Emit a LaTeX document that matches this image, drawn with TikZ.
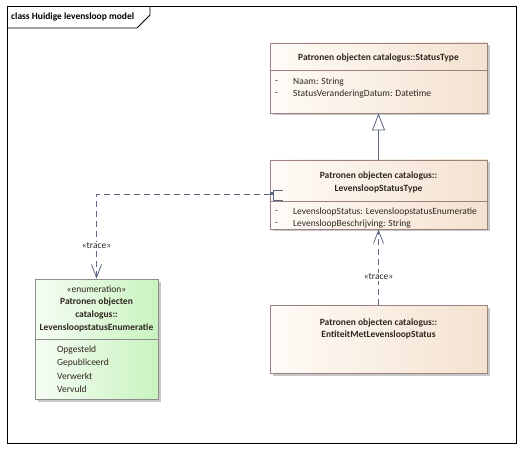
\documentclass[tikz,border=0pt]{standalone}
\usepackage{fontspec}
\setmainfont{Carlito}
\usetikzlibrary{arrows.meta,shadows}
\definecolor{clsL}{HTML}{FFFBF7}
\definecolor{clsR}{HTML}{F4E2D0}
\definecolor{clsB}{HTML}{9E8282}
\definecolor{enL}{HTML}{F6FDF4}
\definecolor{enR}{HTML}{C9F3BF}
\definecolor{enB}{HTML}{8C8C8C}
\definecolor{conn}{HTML}{5C6683}
\definecolor{txt}{HTML}{2E2620}
\begin{document}
\begin{tikzpicture}[x=1pt,y=-1pt,
  box/.style={draw=clsB,line width=0.8pt,left color=clsL,right color=clsR,
    minimum width=217pt,inner sep=0pt,
    general shadow={shadow xshift=2.5pt,shadow yshift=-2.5pt,fill=black!22}},
  ebox/.style={draw=enB,line width=0.8pt,left color=enL,right color=enR,
    minimum width=123pt,minimum height=120pt,inner sep=0pt,
    general shadow={shadow xshift=2.5pt,shadow yshift=-2.5pt,fill=black!22}},
  ttl/.style={font=\fontsize{9.5}{10}\selectfont\bfseries,text=txt,inner sep=0pt},
  attr/.style={font=\fontsize{9.5}{10}\selectfont,text=txt,inner sep=0pt,anchor=west},
  sep/.style={draw=clsB,line width=0.8pt},
  conline/.style={draw=conn,line width=0.8pt},
  trace/.style={conline,dash pattern=on 6pt off 4pt,-{Straight Barb[length=13pt,width=10pt]}},
  lbl/.style={font=\fontsize{9.5}{10}\selectfont,text=txt,fill=white,inner sep=1pt}
  ]
\useasboundingbox (0,0) rectangle (522,449);
% frame
\draw[line width=0.9pt] (7,6) rectangle (516,443);
\draw[line width=0.8pt] (7,28) -- (137,28) -- (150,15) -- (150,6);
\node[font=\fontsize{9.5}{10}\selectfont\bfseries,anchor=west,inner sep=0pt] (title) at (11,17) {class Huidige levensloop model};

% StatusType
\node[box,minimum height=70pt] (st) at (378.5,78) {};
\draw[sep] (st.west |- 0,70) -- (st.east |- 0,70);
\node[ttl] (stt) at (378.5,58) {Patronen objecten catalogus::StatusType};
\node[attr] (sta1d) at (275,82) {-};
\node[attr] (sta1) at (293,82) {Naam: String};
\node[attr] (sta2d) at (275,94) {-};
\node[attr] (sta2) at (293,94) {StatusVeranderingDatum: Datetime};

% LevensloopStatusType
\node[box,minimum height=69pt] (lst) at (378.5,194.5) {};
\draw[sep] (lst.west |- 0,201) -- (lst.east |- 0,201);
\node[ttl] (lstt1) at (378.5,176) {Patronen objecten catalogus::};
\node[ttl] (lstt2) at (378.5,189) {LevensloopStatusType};
\node[attr] (lsta1d) at (275,212) {-};
\node[attr] (lsta1) at (293,212) {LevensloopStatus: LevensloopstatusEnumeratie};
\node[attr] (lsta2d) at (275,224) {-};
\node[attr] (lsta2) at (293,224) {LevensloopBeschrijving: String};

% Entiteit
\node[box,minimum height=68pt] (ent) at (378.5,339) {};
\node[ttl] (entt1) at (378.5,323) {Patronen objecten catalogus::};
\node[ttl] (entt2) at (378.5,335) {EntiteitMetLevensloopStatus};

% Enumeration
\node[ebox] (en) at (96.5,339) {};
\draw[draw=enB,line width=0.8pt] (en.west |- 0,339) -- (en.east |- 0,339);
\node[font=\fontsize{9.5}{10}\selectfont,text=txt,inner sep=0pt] (ens) at (96.5,289) {«enumeration»};
\node[ttl] (ent1) at (96.5,302) {Patronen objecten};
\node[ttl] (ent2) at (96.5,315) {catalogus::};
\node[ttl] (ent3) at (96.5,328) {LevensloopstatusEnumeratie};
\node[attr] (el1) at (57,350) {Opgesteld};
\node[attr] (el2) at (57,363) {Gepubliceerd};
\node[attr] (el3) at (57,376) {Verwerkt};
\node[attr] (el4) at (57,389) {Vervuld};

% generalization
\draw[conline,-{Triangle[open,length=17pt,width=13pt,fill=white]}] (lst.north) -- (st.south);

% trace lst -> enumeration
\draw[trace] (lst.west) -| (en.north);
\node[lbl] (tr1) at (96.5,246) {«trace»};
\fill[conn] (270,192.5) rectangle (273,195.5);
\draw[conline] (273,190) -- (273,200.5) (273,190) -- (283,190) (273,200.5) -- (283,200.5);

% trace ent -> lst
\draw[trace] (ent.north) -- (lst.south);
\node[lbl] (tr2) at (378.5,277) {«trace»};
\end{tikzpicture}
\end{document}
